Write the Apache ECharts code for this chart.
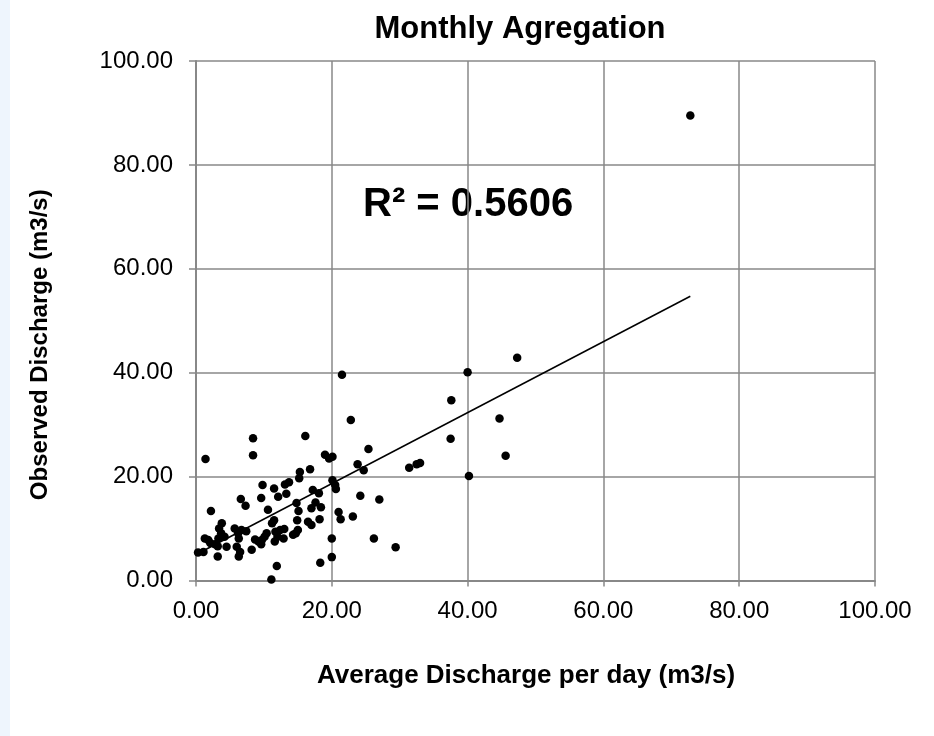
<!DOCTYPE html>
<html>
<head>
<meta charset="utf-8">
<script src="https://cdn.jsdelivr.net/npm/echarts@6/dist/echarts.min.js"></script>
<style>
    html, body { margin: 0; padding: 0; background: #fff; }
    #strip { position: absolute; left: 0; top: 0; width: 10px; height: 736px; background: #eef5fd; }
    #main { width: 934px; height: 736px; }
</style>
</head>
<body>
<div id="strip"></div>
<div id="main"></div>
<script>
// average discharge per day (x) vs observed discharge (y), m3/s
var avgDischarge = [
    22.8, 1.4, 8.4, 8.4, 16.1, 19.0, 19.6, 20.1, 25.4, 16.8,
    15.3, 15.2, 23.8, 24.7, 13.1, 13.7, 20.1, 20.5, 20.6, 9.8,
    11.5, 13.3, 12.1, 9.6, 17.2, 18.1, 6.6, 7.3, 2.2, 24.2,
    27.0, 10.6, 14.8, 15.1, 17.6, 17.0, 18.4, 21.0, 21.3, 23.1,
    11.5, 11.2, 14.9, 15.0, 16.5, 17.0, 18.2, 3.8, 3.4, 3.7,
    4.2, 3.3, 5.7, 6.2, 6.7, 7.4, 6.3, 10.4, 10.1, 9.7,
    8.7, 9.2, 9.6, 11.7, 12.4, 13.0, 12.0, 11.6, 12.9, 14.3,
    14.7, 1.3, 1.8, 2.1, 2.8, 3.2, 4.5, 6.0, 6.5, 8.2,
    0.3, 1.1, 3.2, 6.3, 20.0, 26.2, 20.0, 18.3, 11.9, 11.1,
    21.5, 47.3, 40.0, 37.6, 44.7, 37.5, 45.6, 31.4, 32.5, 33.0,
    40.2, 29.4, 72.8
];
var obsDischarge = [
    30.9, 23.4, 27.4, 24.1, 27.8, 24.2, 23.5, 23.8, 25.3, 21.4,
    20.9, 19.7, 22.4, 21.2, 18.5, 18.9, 19.3, 18.4, 17.6, 18.4,
    17.7, 16.7, 16.1, 15.9, 17.4, 16.8, 15.7, 14.4, 13.4, 16.3,
    15.6, 13.6, 14.9, 13.4, 15.0, 13.9, 14.1, 13.2, 11.8, 12.3,
    11.6, 11.0, 11.6, 9.7, 11.3, 10.7, 11.8, 11.0, 10.0, 9.1,
    8.4, 8.1, 10.0, 9.1, 9.7, 9.5, 8.1, 9.1, 8.4, 7.8,
    7.9, 7.5, 7.0, 9.4, 9.7, 9.9, 8.4, 7.5, 8.1, 8.8,
    9.1, 8.1, 7.8, 7.2, 7.0, 6.6, 6.5, 6.5, 5.5, 5.9,
    5.4, 5.5, 4.6, 4.6, 8.1, 8.1, 4.5, 3.4, 2.8, 0.2,
    39.6, 42.9, 40.1, 34.7, 31.2, 27.3, 24.0, 21.7, 22.4, 22.6,
    20.1, 6.4, 89.5
];
var axisTicks = [0, 20, 40, 60, 80, 100];
// linear trend line as shown on the chart
var trendSlope = 0.683;
var trendIntercept = 5.0;
var rSquared = '0.5606';

var points = avgDischarge.map(function (x, i) { return [x, obsDischarge[i]]; });
var xMin = Math.min.apply(null, avgDischarge);
var xMax = Math.max.apply(null, avgDischarge);
var trendLine = [xMin, xMax].map(function (x) { return [x, trendSlope * x + trendIntercept]; });

var fontFam = 'Liberation Sans, Arial, sans-serif';
var labelFont = { color: '#000', fontSize: 24, fontFamily: fontFam };
var gridColor = '#888';

var myChart = echarts.init(document.getElementById('main'));
myChart.setOption({
    animation: false,
    title: {
        text: 'Monthly Agregation',
        left: 515,
        textAlign: 'center',
        top: 9,
        textStyle: { color: '#000', fontSize: 31, fontWeight: 'bold', fontFamily: fontFam }
    },
    grid: { left: 196, right: 59, top: 61, bottom: 155.5 },
    xAxis: {
        type: 'value',
        min: axisTicks[0], max: axisTicks[axisTicks.length - 1], interval: 20,
        name: 'Average Discharge per day (m3/s)',
        nameLocation: 'middle',
        nameGap: 82,
        nameTextStyle: { color: '#000', fontSize: 26, fontWeight: 'bold', fontFamily: fontFam, padding: [0, 19, 0, 0] },
        axisLine: { onZero: false, lineStyle: { color: gridColor, width: 2 } },
        axisTick: { show: true, length: 6, lineStyle: { color: gridColor, width: 1.5 } },
        axisLabel: Object.assign({ margin: 19, formatter: function (v) { return v.toFixed(2); } }, labelFont),
        splitLine: { show: true, lineStyle: { color: gridColor, width: 1.5 } }
    },
    yAxis: {
        type: 'value',
        min: axisTicks[0], max: axisTicks[axisTicks.length - 1], interval: 20,
        name: 'Observed Discharge (m3/s)',
        nameLocation: 'middle',
        nameGap: 144,
        nameTextStyle: { color: '#000', fontSize: 24, fontWeight: 'bold', fontFamily: fontFam, padding: [0, 48, 0, 0] },
        axisLine: { show: true, lineStyle: { color: gridColor, width: 2 } },
        axisTick: { show: true, length: 7, lineStyle: { color: gridColor, width: 1.5 } },
        axisLabel: Object.assign({ margin: 23, formatter: function (v) { return v.toFixed(2); } }, labelFont),
        splitLine: { show: true, lineStyle: { color: gridColor, width: 1.5 } }
    },
    graphic: [{
        type: 'text',
        left: 363,
        top: 185,
        style: { text: 'R² = ' + rSquared, fill: '#000', font: 'bold 40px Liberation Sans, Arial, sans-serif' }
    }],
    series: [
        {
            type: 'scatter',
            data: points,
            symbol: 'circle',
            symbolSize: 8.5,
            itemStyle: { color: '#000', opacity: 1 },
            z: 3
        },
        {
            type: 'line',
            data: trendLine,
            showSymbol: false,
            lineStyle: { color: '#000', width: 1.5 },
            z: 2
        }
    ]
});
</script>
</body>
</html>
